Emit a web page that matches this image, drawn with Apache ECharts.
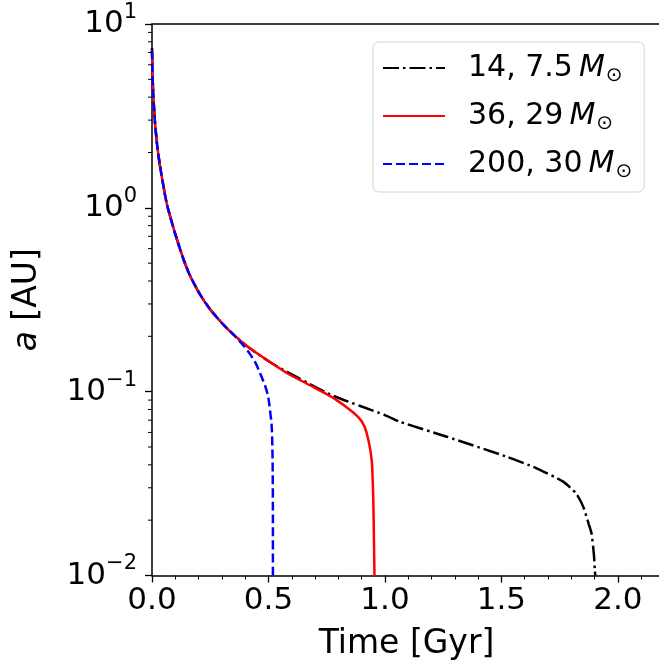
<!DOCTYPE html>
<html>
<head>
<meta charset="utf-8">
<script src="https://cdn.jsdelivr.net/npm/echarts@6/dist/echarts.min.js"></script>
<style>html,body{margin:0;padding:0;background:#fff}#c{width:659px;height:663px}</style>
</head>
<body>
<div id="c"></div>
<script>
// Series names (legend) and data
const seriesNames = ['14, 7.5', '36, 29', '200, 30'];
// [time Gyr, a AU]
const blackData = [[0,7.4],[0.003,5.0],[0.006,4.0],[0.013,2.9],[0.022,2.2],[0.034,1.7],[0.063,1.06],[0.099,0.726],[0.134,0.530],[0.163,0.428],[0.206,0.338],[0.249,0.281],[0.306,0.232],[0.349,0.205],[0.42,0.172],[0.506,0.145],[0.58,0.128],[0.635,0.1175],[0.777,0.095],[1.0,0.0746],[1.064,0.0686],[1.265,0.0569],[1.522,0.0443],[1.651,0.0383],[1.765,0.0324],[1.82,0.028],[1.851,0.0237],[1.875,0.019],[1.887,0.0169],[1.897,0.013],[1.901,0.0107],[1.903,0.01]];
const redData = [[0,7.2],[0.003,5.0],[0.006,4.0],[0.013,2.9],[0.022,2.2],[0.034,1.7],[0.063,1.06],[0.099,0.726],[0.134,0.530],[0.163,0.428],[0.206,0.338],[0.249,0.281],[0.306,0.232],[0.349,0.205],[0.42,0.172],[0.506,0.145],[0.58,0.126],[0.68,0.108],[0.778,0.0925],[0.864,0.077],[0.9,0.069],[0.921,0.060],[0.943,0.0425],[0.950,0.0257],[0.953,0.015],[0.955,0.01]];
const blueData = [[0,7.2],[0.003,5.0],[0.006,4.0],[0.013,2.9],[0.022,2.2],[0.034,1.7],[0.063,1.06],[0.099,0.726],[0.134,0.530],[0.163,0.428],[0.206,0.338],[0.249,0.281],[0.306,0.232],[0.349,0.205],[0.385,0.183],[0.421,0.16],[0.445,0.143],[0.464,0.126],[0.485,0.108],[0.499,0.0937],[0.514,0.0644],[0.518,0.039],[0.519,0.02],[0.519,0.01]];
// Log-axis minor tick values
const yMinorTicks = [0.02,0.03,0.04,0.05,0.06,0.07,0.08,0.09,0.2,0.3,0.4,0.5,0.6,0.7,0.8,0.9,2,3,4,5,6,7,8,9];
const xTickLabels = ['0.0','0.5','1.0','1.5','2.0'];

const FONT = 'DejaVu Sans';
const chart = echarts.init(document.getElementById('c'), null, {renderer: 'canvas'});

function yLabel(v) {
  const e = Math.round(Math.log10(v));
  const s = e < 0 ? '\u2212' + (-e) : String(e);
  return '{b|10}{s|' + s + '}';
}

const option = {
  backgroundColor: '#fff',
  animation: false,
  grid: {left: 152, top: 24, right: -2, bottom: 87.5, containLabel: false, outerBoundsMode: 'none'},
  legend: {
    data: seriesNames,
    orient: 'vertical',
    left: 373, top: 42,
    width: 277,
    backgroundColor: '#fff',
    borderColor: '#d4d4d4',
    borderWidth: 1,
    borderRadius: 6,
    padding: [8, 12, 10, 9],
    itemWidth: 62, itemHeight: 14, itemGap: 12,
    itemStyle: {opacity: 0, borderWidth: 0},
    formatter: n => n + '\u2009{m|M}{s|\u2299}',
    textStyle: {
      fontFamily: FONT, fontSize: 30, color: '#000', padding: [0, 0, 0, 18], lineHeight: 36,
      rich: {
        m: {fontFamily: FONT, fontSize: 30, fontStyle: 'italic', color: '#000', lineHeight: 36},
        s: {fontFamily: FONT, fontSize: 20, color: '#000', verticalAlign: 'bottom', lineHeight: 26, padding: [0,0,0,1]}
      }
    }
  },
  xAxis: [{
    type: 'value', min: 0, max: 2.185, interval: 0.5,
    name: 'Time [Gyr]', nameLocation: 'middle', nameGap: 52,
    nameTextStyle: {fontFamily: FONT, fontSize: 33, color: '#000'},
    axisLine: {show: true, lineStyle: {color: '#000', width: 1.5}},
    axisTick: {show: true, length: 7, lineStyle: {color: '#000', width: 1.3}},
    minorTick: {show: true, splitNumber: 5, length: 4, lineStyle: {color: '#000', width: 1}},
    splitLine: {show: false},
    axisLabel: {fontFamily: FONT, fontSize: 31, color: '#000', margin: 10, showMaxLabel: false,
      formatter: v => { const i = Math.round(v / 0.5); return (Math.abs(v - i * 0.5) < 1e-9 && xTickLabels[i]) ? xTickLabels[i] : ''; }}
  }, {
    type: 'value', position: 'top', min: 0, max: 2.185,
    axisLine: {show: true, lineStyle: {color: '#000', width: 1.5}},
    axisTick: {show: false}, axisLabel: {show: false}, splitLine: {show: false}
  }],
  yAxis: {
    type: 'log', logBase: 10, min: 0.01, max: 10,
    name: '{i|a} [AU]', nameLocation: 'middle', nameGap: 108,
    nameTextStyle: {fontFamily: FONT, fontSize: 33, color: '#000',
      rich: {i: {fontFamily: FONT, fontSize: 33, fontStyle: 'italic', color: '#000'}}},
    axisLine: {show: true, lineStyle: {color: '#000', width: 1.5}},
    axisTick: {show: true, length: 7, lineStyle: {color: '#000', width: 1.3}},
    splitLine: {show: false},
    axisLabel: {
      margin: 15, formatter: yLabel,
      rich: {
        b: {fontFamily: FONT, fontSize: 31, color: '#000', lineHeight: 44},
        s: {fontFamily: FONT, fontSize: 21, color: '#000', verticalAlign: 'top', lineHeight: 22}
      }
    }
  },
  series: [
    {name: seriesNames[0], type: 'line', data: blackData, showSymbol: false, symbol: 'none', smooth: 0.2,
      lineStyle: {color: '#000', width: 2.5, type: [16, 4, 2.5, 4]}, itemStyle: {color: '#000'}, z: 3},
    {name: seriesNames[1], type: 'line', data: redData, showSymbol: false, symbol: 'none', smooth: 0.2,
      lineStyle: {color: '#ff0000', width: 2.5, type: 'solid'}, itemStyle: {color: '#ff0000'}, z: 4},
    {name: seriesNames[2], type: 'line', data: blueData, showSymbol: false, symbol: 'none', smooth: 0.2,
      lineStyle: {color: '#0000ff', width: 2.5, type: [9, 4]}, itemStyle: {color: '#0000ff'}, z: 5},
    {type: 'custom', clip: false, silent: true, z: 10,
      data: yMinorTicks.map(v => [0, v]),
      renderItem: (params, api) => {
        const p = api.coord([0, api.value(1)]);
        return {type: 'line', shape: {x1: p[0] - 4, y1: p[1], x2: p[0], y2: p[1]},
          style: {stroke: '#000', lineWidth: 1}};
      }}
  ]
};
chart.setOption(option);
</script>
</body>
</html>
